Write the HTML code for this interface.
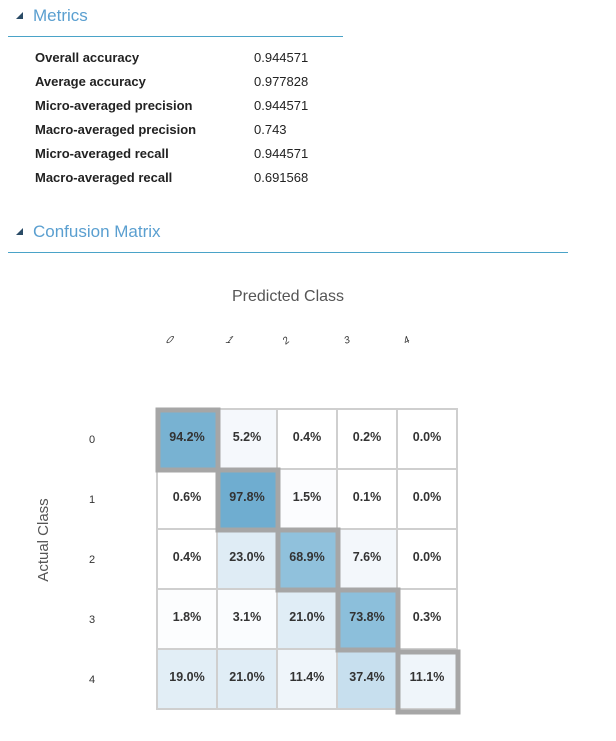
<!DOCTYPE html>
<html><head><style>
body{margin:0;width:616px;height:741px;background:#fff;font-family:"Liberation Sans",sans-serif;position:relative;overflow:hidden}
.h{position:absolute;left:33px;font-size:17px;color:#5a9fd0}
.tri{position:absolute;left:16px;width:0;height:0;border-left:7px solid transparent;border-bottom:7px solid #2a4b66}
.line{position:absolute;left:8px;height:1px;background:#4aa3c8}
.m{position:absolute;left:35px;font-size:13px;font-weight:bold;color:#222}
.v{position:absolute;left:254px;font-size:13px;color:#222}
</style></head><body>
<div class="tri" style="top:12px"></div>
<div class="h" style="top:6px">Metrics</div>
<div class="line" style="top:36px;width:335px"></div>
<div class="m" style="top:50px">Overall accuracy</div><div class="v" style="top:50px">0.944571</div>
<div class="m" style="top:74px">Average accuracy</div><div class="v" style="top:74px">0.977828</div>
<div class="m" style="top:98px">Micro-averaged precision</div><div class="v" style="top:98px">0.944571</div>
<div class="m" style="top:122px">Macro-averaged precision</div><div class="v" style="top:122px">0.743</div>
<div class="m" style="top:146px">Micro-averaged recall</div><div class="v" style="top:146px">0.944571</div>
<div class="m" style="top:170px">Macro-averaged recall</div><div class="v" style="top:170px">0.691568</div>
<div class="tri" style="top:228px"></div>
<div class="h" style="top:222px">Confusion Matrix</div>
<div class="line" style="top:252px;width:560px"></div>
<svg width="616" height="741" style="position:absolute;left:0;top:0" font-family="Liberation Sans, sans-serif">
<text x="288" y="301" text-anchor="middle" font-size="16" fill="#555">Predicted Class</text>
<text transform="translate(48,540) rotate(-90)" text-anchor="middle" font-size="15" fill="#555">Actual Class</text>
<g font-size="10" fill="#333" font-style="italic">
<text transform="translate(168,343) skewX(-30)" text-anchor="middle">0</text>
<text transform="translate(228,343) skewX(-30)" text-anchor="middle">1</text>
<text transform="translate(288,343) rotate(-40)" text-anchor="middle">2</text>
<text transform="translate(348,343) rotate(-20)" text-anchor="middle">3</text>
<text transform="translate(408,343) rotate(-30)" text-anchor="middle">4</text>
</g>
<g font-size="11" fill="#333">
<text x="89" y="443">0</text><text x="89" y="503">1</text><text x="89" y="563">2</text><text x="89" y="623">3</text><text x="89" y="683">4</text>
</g>
<g stroke="#cfcfcf" stroke-width="2">
<rect x="157" y="409" width="60" height="60" fill="#78b2d2"/><rect x="217" y="409" width="60" height="60" fill="#f5f8fc"/><rect x="277" y="409" width="60" height="60" fill="#fff"/><rect x="337" y="409" width="60" height="60" fill="#fff"/><rect x="397" y="409" width="60" height="60" fill="#fff"/>
<rect x="157" y="469" width="60" height="60" fill="#fff"/><rect x="217" y="469" width="60" height="60" fill="#6fadd0"/><rect x="277" y="469" width="60" height="60" fill="#fbfcfe"/><rect x="337" y="469" width="60" height="60" fill="#fff"/><rect x="397" y="469" width="60" height="60" fill="#fff"/>
<rect x="157" y="529" width="60" height="60" fill="#fff"/><rect x="217" y="529" width="60" height="60" fill="#dfecf5"/><rect x="277" y="529" width="60" height="60" fill="#90c1dc"/><rect x="337" y="529" width="60" height="60" fill="#f3f7fb"/><rect x="397" y="529" width="60" height="60" fill="#fff"/>
<rect x="157" y="589" width="60" height="60" fill="#fcfdfe"/><rect x="217" y="589" width="60" height="60" fill="#fafcfe"/><rect x="277" y="589" width="60" height="60" fill="#e0edf6"/><rect x="337" y="589" width="60" height="60" fill="#8cbfdb"/><rect x="397" y="589" width="60" height="60" fill="#fff"/>
<rect x="157" y="649" width="60" height="60" fill="#e2eef6"/><rect x="217" y="649" width="60" height="60" fill="#e0edf6"/><rect x="277" y="649" width="60" height="60" fill="#eff5fa"/><rect x="337" y="649" width="60" height="60" fill="#c7dfee"/><rect x="397" y="649" width="60" height="60" fill="#eff5fa"/>
</g>
<g fill="none" stroke="#a6a6a6" stroke-width="5">
<rect x="158" y="410" width="60" height="60"/><rect x="218" y="470" width="60" height="60"/><rect x="278" y="530" width="60" height="60"/><rect x="338" y="590" width="60" height="60"/><rect x="398" y="652" width="60" height="60"/>
</g>
<g font-size="12.5" font-weight="bold" fill="#333" text-anchor="middle">
<text x="187" y="441">94.2%</text><text x="247" y="441">5.2%</text><text x="307" y="441">0.4%</text><text x="367" y="441">0.2%</text><text x="427" y="441">0.0%</text>
<text x="187" y="501">0.6%</text><text x="247" y="501">97.8%</text><text x="307" y="501">1.5%</text><text x="367" y="501">0.1%</text><text x="427" y="501">0.0%</text>
<text x="187" y="561">0.4%</text><text x="247" y="561">23.0%</text><text x="307" y="561">68.9%</text><text x="367" y="561">7.6%</text><text x="427" y="561">0.0%</text>
<text x="187" y="621">1.8%</text><text x="247" y="621">3.1%</text><text x="307" y="621">21.0%</text><text x="367" y="621">73.8%</text><text x="427" y="621">0.3%</text>
<text x="187" y="681">19.0%</text><text x="247" y="681">21.0%</text><text x="307" y="681">11.4%</text><text x="367" y="681">37.4%</text><text x="427" y="681">11.1%</text>
</g>
</svg>
</body></html>
